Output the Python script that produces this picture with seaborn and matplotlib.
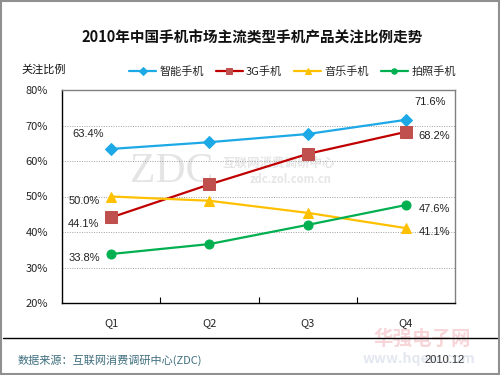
import pandas as pd
import numpy as np
import matplotlib
matplotlib.use("Agg")
import matplotlib.pyplot as plt
import seaborn as sns

sns.set_theme(style="white")
plt.rcParams["font.family"] = ["Noto Sans CJK SC", "DejaVu Sans"]

# data (percent)
quarters = ["Q1", "Q2", "Q3", "Q4"]
series_names = ["智能手机", "3G手机", "音乐手机", "拍照手机"]
smart = [63.4, 65.3, 67.6, 71.6]
g3 = [44.1, 53.4, 62.0, 68.2]
music = [50.0, 48.8, 45.4, 41.1]
photo = [33.8, 36.6, 42.0, 47.6]

colors = {"智能手机": "#1CA9E6", "3G手机": "#C00000",
          "音乐手机": "#FFC000", "拍照手机": "#00B050"}
marker_face = {"智能手机": "#1CA9E6", "3G手机": "#C0504D",
               "音乐手机": "#FFC000", "拍照手机": "#00B050"}
markers = {"智能手机": "D", "3G手机": "s", "音乐手机": "^", "拍照手机": "o"}
msizes = {"智能手机": 6.5, "3G手机": 8, "音乐手机": 7, "拍照手机": 6.5}

df = pd.DataFrame({
    "quarter": quarters * 4,
    "x": list(range(4)) * 4,
    "series": np.repeat(series_names, 4),
    "value": smart + g3 + music + photo,
})

fig = plt.figure(figsize=(5, 3.75), dpi=100)
fig.patch.set_facecolor("white")
ax = fig.add_axes([0.124, 0.192, 0.786, 0.568])

# watermarks (behind the data)
ax.text(0.62, 57.0, "ZDC", fontsize=30, color="#E4E4E4", ha="center",
        va="center", zorder=0, family=["Liberation Serif", "DejaVu Serif"])
ax.text(1.13, 59.4, "互联网消费调研中心", fontsize=9, color="#E6E6E6",
        ha="left", va="center", zorder=0, fontweight="bold")
ax.text(1.41, 54.8, "zdc.zol.com.cn", fontsize=8, color="#E6E6E6",
        ha="left", va="center", zorder=0, fontweight="bold")

for name in series_names:
    sub = df[df["series"] == name]
    sns.lineplot(data=sub, x="x", y="value", ax=ax, color=colors[name],
                 linewidth=1.6, marker=markers[name], markersize=msizes[name],
                 markerfacecolor=marker_face[name],
                 markeredgecolor=marker_face[name], label=name, legend=False)

ax.set_xlim(-0.5, 3.5)
ax.set_ylim(20, 80)
ax.set_yticks(range(20, 81, 10))
ax.set_yticklabels([f"{v}%" for v in range(20, 81, 10)], fontsize=8)
ax.set_xticks(range(4))
ax.set_xticklabels(quarters, fontsize=8)
ax.set_xticks([0.5, 1.5, 2.5], minor=True)
ax.tick_params(axis="x", which="major", length=0, pad=11)
ax.tick_params(axis="x", which="minor", direction="in", length=4,
               width=0.8, color="black", bottom=True)
ax.tick_params(axis="y", length=0, pad=10)
ax.set_xlabel("")
ax.set_ylabel("")
for v in range(30, 80, 10):
    ax.axhline(v, color="#A0A0A0", linestyle=(0, (1, 1.5)), linewidth=0.7,
               zorder=0)
ax.spines["left"].set_color("black")
ax.spines["bottom"].set_color("black")
ax.spines["top"].set_color("#808080")
ax.spines["right"].set_color("#808080")
for s in ax.spines.values():
    s.set_linewidth(1.0)

# data labels at first and last points
lab_kw = dict(textcoords="offset points", fontsize=8, color="#222222",
              family=["Liberation Sans", "DejaVu Sans"])
first = {"智能手机": (-5, 11, "right"), "3G手机": (-9, -5, "right"),
         "音乐手机": (-8, -3, "right"), "拍照手机": (-8, -3, "right")}
last = {"智能手机": (6, 13, "left"), "3G手机": (9, -3, "left"),
        "音乐手机": (9, -3, "left"), "拍照手机": (9, -3, "left")}
for name, vals in zip(series_names, [smart, g3, music, photo]):
    dx, dy, ha = first[name]
    ax.annotate(f"{vals[0]:.1f}%", (0, vals[0]), xytext=(dx, dy), ha=ha,
                va="center", **lab_kw)
    dx, dy, ha = last[name]
    ax.annotate(f"{vals[-1]:.1f}%", (3, vals[-1]), xytext=(dx, dy), ha=ha,
                va="center", **lab_kw)

# title, y label, legend
fig.text(0.505, 0.9, "2010年中国手机市场主流类型手机产品关注比例走势",
         ha="center", va="center", fontsize=10.5, fontweight="bold",
         color="#111111")
fig.text(0.042, 0.815, "关注比例", ha="left", va="center", fontsize=8,
         color="#111111")
handles, labels = ax.get_legend_handles_labels()
leg = fig.legend(handles, labels, loc="center", bbox_to_anchor=(0.585, 0.808),
                 ncol=4, frameon=False, fontsize=8, handlelength=2.4,
                 columnspacing=1.1, handletextpad=0.3, markerscale=0.6)

# footer
fig.add_artist(plt.Line2D([0.006, 0.994], [0.098, 0.098], color="black",
                          linewidth=1.0, transform=fig.transFigure))
fig.text(0.036, 0.04, "数据来源：互联网消费调研中心(ZDC)", ha="left",
         va="center", fontsize=8, color="#3E6E7E")
fig.text(0.746, 0.095, "华强电子网", ha="left", va="center", fontsize=14,
         color="#F4C4C8", fontweight="bold", alpha=0.7, zorder=0)
fig.text(0.726, 0.042, "www.hqew.com", ha="left", va="center", fontsize=10,
         color="#C8D0E0", fontweight="bold", alpha=0.5, zorder=0)
fig.text(0.93, 0.04, "2010.12", ha="right", va="center", fontsize=8,
         color="#333333", family=["Liberation Sans", "DejaVu Sans"],
         zorder=3)

# outer grey frame
fig.add_artist(plt.Rectangle((0.002, 0.002), 0.996, 0.995, fill=False,
                             edgecolor="#909090", linewidth=1.5,
                             transform=fig.transFigure))

fig.savefig("out.png", dpi=100, facecolor="white")
